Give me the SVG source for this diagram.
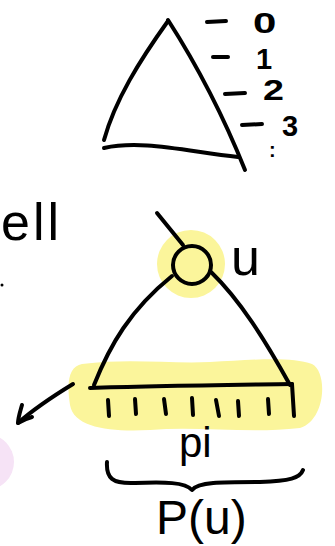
<svg xmlns="http://www.w3.org/2000/svg" width="335" height="546" viewBox="0 0 335 546">
<style>
.s{fill:none;stroke:#000;stroke-width:4;stroke-linecap:round;stroke-linejoin:round}
.t{font-family:"Liberation Sans","DejaVu Sans",sans-serif;fill:#000;font-weight:normal}
.b{font-weight:bold}
</style>
<rect width="335" height="546" fill="#fff"/>
<g id="highlights">
<circle cx="-14" cy="462" r="28" fill="#f6e3f6"/>
<path d="M82,364 C130,358 170,364 210,362 C250,360 290,356 312,364 C328,372 326,420 300,428 C250,434 200,426 150,430 C110,432 74,428 70,405 C66,380 70,366 82,364 Z" fill="#fbf59b"/>
<circle cx="191" cy="264" r="34" fill="#fbf59b"/>
</g>
<g id="tree-top">
<path class="s" d="M168,21 C140,60 115,100 104,140"/>
<path class="s" d="M168,20 C200,70 225,120 245,170"/>
<path class="s" d="M104,148 C140,140 180,150 238,157"/>
</g>
<g id="levels">
<path class="s" d="M207,22 L226,21"/>
<path class="s" d="M213,57 L228,57"/>
<path class="s" d="M225,94 L245,93"/>
<path class="s" d="M242,125 L262,124"/>
<text class="t b" x="253" y="33" font-size="30" transform="translate(253 33) scale(1.4 1) translate(-253 -33)">0</text>
<text class="t b" x="256" y="69" font-size="29">1</text>
<text class="t b" x="263" y="100" font-size="29" transform="translate(263 100) scale(1.3 1) translate(-263 -100)">2</text>
<text class="t b" x="282" y="136" font-size="29">3</text>
<text class="t b" x="269" y="157" font-size="20">:</text>
</g>
<g id="label-ell">
<text class="t" x="1" y="240" font-size="52" letter-spacing="3">ell</text>
<circle cx="2" cy="285" r="1.5" fill="#000"/>
</g>
<g id="node-u">
<circle class="s" cx="192" cy="265" r="19"/>
<text class="t" x="231" y="275" font-size="52">u</text>
</g>
<g id="subtree">
<path class="s" d="M172,276 C130,310 110,345 94,385"/>
<path class="s" d="M211,272 C240,300 265,340 290,385"/>
<path class="s" d="M90,388 C150,386 230,385 292,384"/>
</g>
<g id="leaves">
<path class="s" d="M108,400 L109,416"/>
<path class="s" d="M135,399 L136,414"/>
<path class="s" d="M164,399 L166,414"/>
<path class="s" d="M192,398 L193,415"/>
<path class="s" d="M216,400 L219,416"/>
<path class="s" d="M238,401 L239,416"/>
<path class="s" d="M268,399 L269,414"/>
<path class="s" d="M292,384 L294,416"/>
</g>
<g id="connectors">
<path class="s" d="M157,213 L183,245"/>
<path class="s" d="M73,384 C55,395 35,408 18,423"/>
<path class="s" d="M22,405 C20,412 18,418 18,423 C23,420 28,418 32,417"/>
</g>
<g id="labels">
<text class="t" x="179" y="457" font-size="42">pi</text>
<path class="s" d="M107,462 C106,478 112,484 135,483 C165,482 185,482 192,490 C198,482 220,482 260,482 C290,481 300,478 303,470"/>
<text class="t" x="156" y="534" font-size="48">P(u)</text>
</g>
</svg>
